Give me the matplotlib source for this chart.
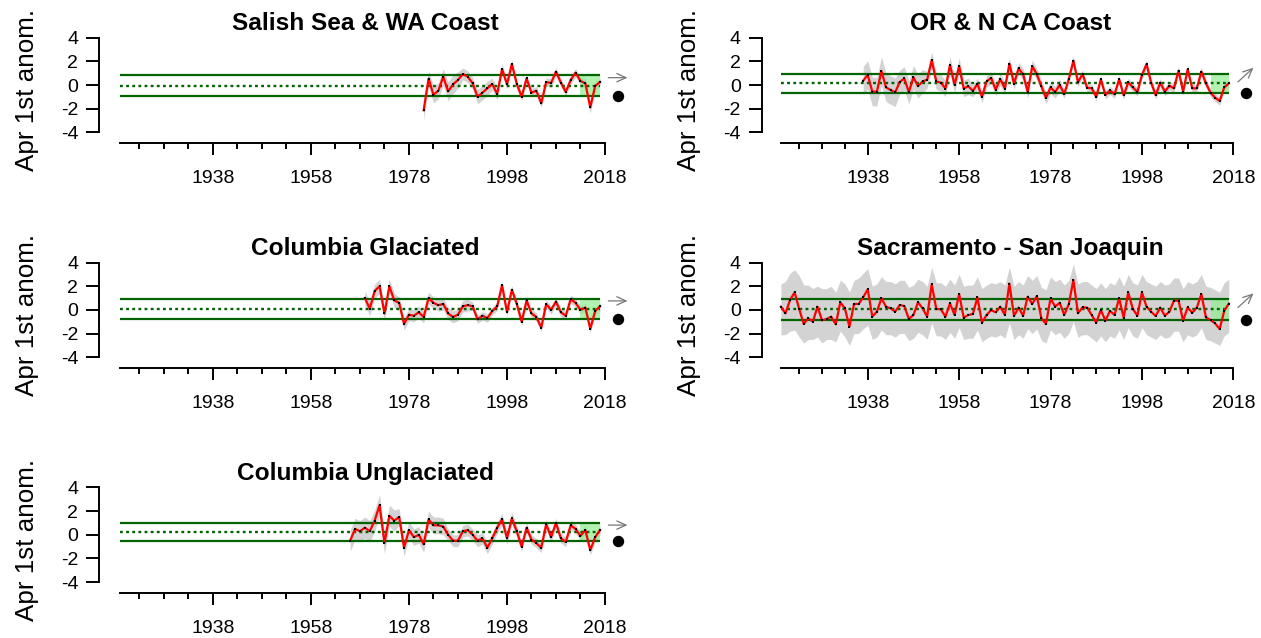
import matplotlib
matplotlib.use("Agg")
import matplotlib.pyplot as plt
import numpy as np

plt.rcParams["font.family"] = ["Liberation Sans", "DejaVu Sans"]

# ---------------------------------------------------------------- data
# April 1st snowpack anomalies by region (standardised units)

salish_years = list(range(1981, 2018))
salish_vals = [-2.14, 0.54, -0.82, -0.48, 0.70, -0.54, 0.06, 0.42, 0.93, 0.70,
               0.14, -0.99, -0.65, -0.28, 0.08, -0.76, 1.35, 0.06, 1.77, 0.08,
               -0.99, 0.56, -0.65, -0.48, -1.55, 0.25, 0.17, 1.13, 0.20, -0.59,
               0.42, 1.04, 0.34, 0.14, -1.89, -0.08, 0.25]
salish_halfwidth = [0.8, 0.7, 0.7, 0.7, 0.7, 0.8, 0.8, 0.7, 0.5, 0.5,
                    0.5, 0.6, 0.6, 0.6, 0.5, 0.5, 0.4, 0.4, 0.4, 0.35,
                    0.35, 0.35, 0.35, 0.35, 0.35, 0.35, 0.35, 0.35, 0.35, 0.35,
                    0.35, 0.35, 0.35, 0.35, 0.5, 0.4, 0.35]

orca_years = list(range(1937, 2018))
orca_vals = [0.37, 0.85, -0.56, -0.56, 1.18, -0.20, -0.42, -0.62, 0.25, 0.55,
             -0.60, 0.65, -0.10, 0.30, 0.45, 2.10, 0.30, 0.20, -0.30, 1.70,
             0.00, 1.60, -0.30, -0.10, -0.50, 0.10, -1.00, 0.30, 0.60, -0.40,
             0.50, -0.30, 1.80, 0.10, 1.40, 0.90, -0.60, 1.60, 0.90, -0.10,
             -1.10, -0.20, -0.60, 0.00,
             -0.76, 0.51, 2.06, 0.23, 0.93, -0.23, -0.28, -0.99, 0.48, -0.85,
             -0.45, -0.79, 0.48, -0.87, 0.23, -0.20, -0.59, 0.85, 1.77, 0.20,
             -0.85, 0.20, -0.56, -0.06, -0.28, 1.21, -0.56, 1.32, -0.28, -0.28,
             1.13, 0.14, -0.65, -1.07, -1.35, -0.20, 0.14]
orca_halfwidth = ([1.2] * 8 + [1.0] * 6 + [0.7] * 10 + [0.5] * 20 + [0.35] * 37)

colg_years = list(range(1969, 2018))
colg_vals = [1.0, 0.1, 1.6, 2.0, -0.3, 2.0, 0.8, 0.6, -1.2, -0.4,
             -0.5, -0.2, -0.6, 1.0, 0.6, 0.4, 0.5, -0.3, -0.6, -0.4,
             0.3, 0.4, 0.3, -0.8, -0.5, -0.7, -0.1, 0.3, 2.1, -0.2,
             1.7, 0.5, -1.0, 0.8, -0.3, -0.6, -1.5, 0.5, 0.0, 0.7,
             -0.2, -0.5, 0.9, 0.6, 0.0, 0.2, -1.6, -0.1, 0.3]
colg_halfwidth = [0.6] * 7 + [0.5] * 15 + [0.35] * 27

sac_years = list(range(1919, 2018))
sac_vals = [0.27, -0.29, 0.84, 1.48, 0.08, -1.19, -0.71, -0.99, 0.27, -0.88,
            -0.77, -0.57, -1.22, 0.64, 0.13, -1.42, 0.50, 0.50, 1.06, 1.74,
            -0.57, -0.15, 0.98, 0.27, 0.13, -0.15, 0.41, 0.33, -0.77, -0.43,
            0.64, 0.13, -0.57, 2.16, 0.08, 0.05, -0.57, 0.55, -0.43, 1.34,
            -0.66, -0.43, -0.35, 1.06, -1.08, -0.43, -0.01, -0.21, 0.27, -0.43,
            2.22, -0.52, 0.19, -0.49, 1.12, 0.50, 1.17, -0.71, -1.19, 0.98,
            0.27, 0.61, -0.43, 0.50, 2.53, -0.29, 0.22, 0.19, -0.43, -1.08,
            -0.01, -0.91, -0.09, -0.43, 0.98, -0.66, 1.48, 0.08, -0.49, 1.48,
            0.27, -0.15, -0.52, 0.19, -0.49, -0.15, 0.78, 0.78, -0.91, 0.22,
            -0.24, 0.19, 1.34, -0.63, -0.85, -1.14, -1.62, -0.09, 0.53]
sac_hi = [2.2, 2.4, 3.1, 3.4, 2.9, 2.1, 2.1, 1.8, 2.0, 1.8,
          1.8, 2.0, 1.5, 2.5, 2.2, 1.5, 2.5, 2.7, 3.1, 3.5,
          2.0, 2.2, 2.8, 2.4, 2.4, 2.2, 2.5, 2.5, 1.9, 2.1,
          2.6, 2.4, 2.0, 3.6, 2.3, 2.3, 2.0, 2.6, 2.1, 3.0,
          2.0, 2.1, 2.1, 2.8, 1.8, 2.1, 2.3, 2.2, 2.4, 2.1,
          3.6, 2.0, 2.4, 2.1, 2.9, 2.5, 2.9, 1.9, 1.7, 2.8,
          2.4, 2.6, 2.1, 2.5, 3.9, 2.2, 2.4, 2.4, 2.1, 1.8,
          2.3, 1.8, 2.3, 2.1, 2.8, 2.0, 3.0, 2.3, 2.1, 3.0,
          2.4, 2.2, 2.0, 2.4, 2.1, 2.2, 2.7, 2.7, 1.8, 2.4,
          2.2, 2.4, 3.0, 2.0, 1.9, 1.7, 1.5, 2.3, 2.6]
sac_lo = [-2.1, -2.1, -1.8, -1.7, -2.3, -2.8, -2.5, -2.5, -2.3, -2.8,
          -2.5, -2.5, -2.7, -1.8, -2.3, -3.0, -2.0, -2.0, -1.6, -1.3,
          -2.5, -2.3, -1.7, -2.1, -2.1, -2.3, -2.0, -2.0, -2.6, -2.4,
          -1.9, -2.1, -2.5, -1.1, -2.2, -2.2, -2.5, -1.9, -2.4, -1.5,
          -2.5, -2.4, -2.4, -1.7, -2.7, -2.4, -2.2, -2.3, -2.1, -2.4,
          -1.1, -2.5, -2.1, -2.4, -1.6, -2.0, -1.6, -2.6, -2.8, -1.7,
          -2.1, -1.9, -2.4, -2.0, -1.0, -2.3, -2.1, -2.1, -2.4, -2.7,
          -2.2, -2.7, -2.2, -2.4, -1.7, -2.5, -1.5, -2.2, -2.4, -1.5,
          -2.1, -2.3, -2.5, -2.1, -2.4, -2.3, -1.8, -1.8, -2.7, -2.1,
          -2.3, -2.1, -1.5, -2.5, -2.6, -2.8, -3.0, -2.2, -1.9]

colu_years = list(range(1966, 2018))
colu_vals = [-0.5, 0.5, 0.3, 0.6, 0.3, 1.2, 2.5, -0.7, 1.6, 1.2,
             1.5, -1.1, 0.4, -0.2, 0.0, -0.8, 1.3, 0.8, 0.8, 0.7,
             0.0, -0.5, -0.5, 0.3, 0.4, 0.0, -0.5, -0.3, -1.1, -0.3,
             0.6, 1.3, -0.3, 1.4, 0.3, -1.0, 0.6, -0.4, -0.7, -1.1,
             0.9, -0.2, 1.0, -0.3, -0.6, 0.8, 0.5, -0.1, 0.4, -1.3,
             -0.2, 0.4]
colu_halfwidth = [0.9] * 10 + [0.7] * 10 + [0.5] * 15 + [0.4] * 17

# long-term mean and +/- 1 sd levels per region
salish_mean, salish_sd = -0.07, 0.89
orca_mean, orca_sd = 0.13, 0.83
colg_mean, colg_sd = 0.11, 0.85
sac_mean, sac_sd = 0.04, 0.86
colu_mean, colu_sd = 0.24, 0.78

# short-term trend symbols (last five years)
trends = ["flat", "up", "flat", "up", "flat"]

recent_start, recent_end = 2013, 2017
line_start, line_end = 1919, 2017

x_major = [1938, 1958, 1978, 1998, 2018]
y_ticks = [-4, -2, 0, 2, 4]

panels = [
    ("Salish Sea & WA Coast", salish_years, salish_vals,
     np.array(salish_vals) - np.array(salish_halfwidth),
     np.array(salish_vals) + np.array(salish_halfwidth),
     salish_mean, salish_sd, 0, 0),
    ("OR & N CA Coast", orca_years, orca_vals,
     np.array(orca_vals) - np.array(orca_halfwidth),
     np.array(orca_vals) + np.array(orca_halfwidth),
     orca_mean, orca_sd, 0, 1),
    ("Columbia Glaciated", colg_years, colg_vals,
     np.array(colg_vals) - np.array(colg_halfwidth),
     np.array(colg_vals) + np.array(colg_halfwidth),
     colg_mean, colg_sd, 1, 0),
    ("Sacramento - San Joaquin", sac_years, sac_vals,
     np.array(sac_lo), np.array(sac_hi),
     sac_mean, sac_sd, 1, 1),
    ("Columbia Unglaciated", colu_years, colu_vals,
     np.array(colu_vals) - np.array(colu_halfwidth),
     np.array(colu_vals) + np.array(colu_halfwidth),
     colu_mean, colu_sd, 2, 0),
]

# ---------------------------------------------------------------- layout
W, H = 1261, 638
fig = plt.figure(figsize=(W / 100, H / 100), dpi=100)

XLIM = (1914.8, 2023.5)
YLIM = (-4.93, 4.93)
PPU = 11.83                      # pixels per y unit
col_x0 = [99.3, 761.7]
col_w = [532.6, 496.8]
row_zero = [85.0, 309.9, 534.8]
ax_h = (YLIM[1] - YLIM[0]) * PPU

GREEN_FILL = (0.56, 0.93, 0.56)
RIBBON = "#d3d3d3"

for k, (title, yrs, vals, lo, hi, mu, sd, r, c) in enumerate(panels):
    top = row_zero[r] - YLIM[1] * PPU
    x0, w = col_x0[c], col_w[c]
    ax = fig.add_axes([x0 / W, 1 - (top + ax_h) / H, w / W, ax_h / H])
    ax.set_xlim(*XLIM)
    ax.set_ylim(*YLIM)

    upper, lower = mu + sd, mu - sd

    ax.fill_between(yrs, lo, hi, color=RIBBON, lw=0, zorder=1)
    ax.fill_between([recent_start, recent_end], [lower, lower], [upper, upper],
                    color=GREEN_FILL, alpha=0.7, lw=0, zorder=2)
    ax.hlines([upper, lower], line_start, line_end, color="darkgreen",
              lw=1.6, zorder=3)
    ax.hlines(mu, line_start, line_end, color="darkgreen", lw=1.7,
              linestyles=(0, (1.2, 1.4)), zorder=3)
    ax.plot(yrs, vals, color="red", lw=1.6, zorder=4)
    ax.plot(yrs, vals, "s", color="black", ms=2.0, mew=0, zorder=5)

    # trend arrow and mean symbol to the right of the series
    if trends[k] == "flat":
        start, end = (2018.7, upper - 0.2), (2022.6, upper - 0.2)
    else:
        start, end = (2019.0, upper - 0.7), (2022.4, upper + 0.5)
    ax.annotate("", xy=end, xytext=start, annotation_clip=False,
                arrowprops=dict(arrowstyle="->,head_length=0.55,head_width=0.25",
                                color="#777777", lw=0.9, mutation_scale=12,
                                shrinkA=0, shrinkB=0))
    ax.plot([2020.7], [lower], "o", color="black", ms=7.2, clip_on=False,
            zorder=6)

    # axes styling
    for s in ("top", "right"):
        ax.spines[s].set_visible(False)
    ax.spines["left"].set_bounds(-4, 4)
    ax.spines["bottom"].set_bounds(line_start, 2018)
    ax.spines["left"].set_linewidth(1.4)
    ax.spines["bottom"].set_linewidth(1.4)

    ax.set_yticks(y_ticks)
    ax.set_yticklabels([str(t) for t in y_ticks])
    ax.set_xticks(x_major)
    ax.set_xticklabels([str(t) for t in x_major])
    ax.set_xticks([y for y in range(1923, 2018, 5) if y not in x_major],
                  minor=True)
    ax.tick_params(axis="y", length=9.1, width=1.4, pad=6, labelsize=14)
    ax.tick_params(axis="x", which="major", length=8.4, width=1.4, pad=11,
                   labelsize=14)
    ax.tick_params(axis="x", which="minor", length=4.3, width=1.4)

    fig.text((x0 + w / 2) / W, 1 - (top + 3.3) / H, title, ha="center",
             va="baseline", fontsize=17.6, fontweight="bold")
    fig.text((x0 - 72.5) / W, 1 - (row_zero[r] + 5) / H, "Apr 1st anom.",
             rotation=90, ha="center", va="center", fontsize=18.7)

fig.savefig("out.png", dpi=100)
